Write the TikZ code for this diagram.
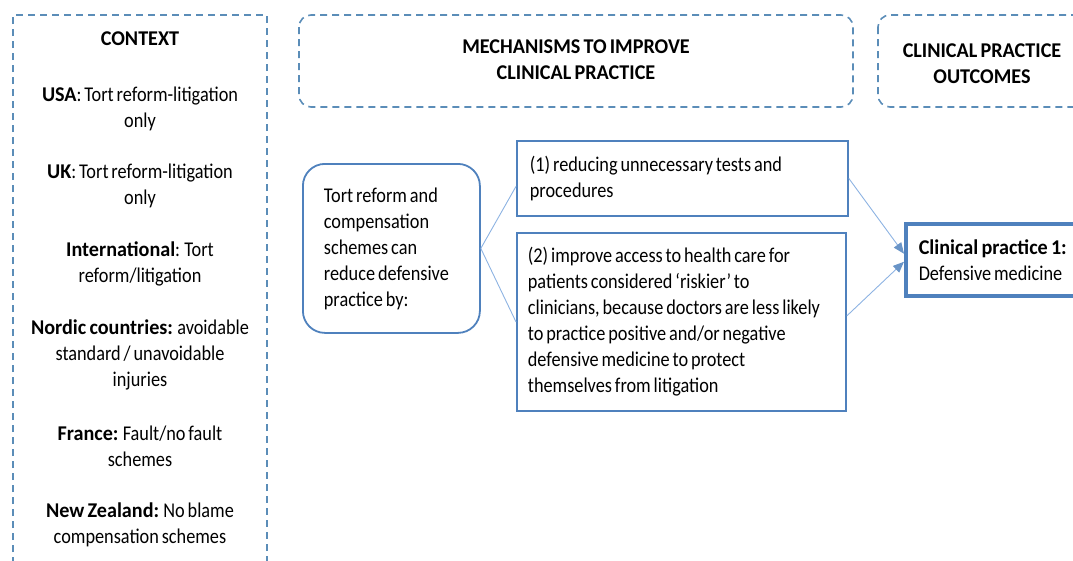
\documentclass[tikz,border=0pt]{standalone}
\usepackage{fontspec}
\setmainfont{Carlito}[FakeStretch=0.87,WordSpace=0.7,BoldFeatures={FakeStretch=0.96}]
\usetikzlibrary{positioning,arrows.meta}
\definecolor{dashblue}{HTML}{5B8DB8}
\definecolor{boxblue}{HTML}{4F81BD}
\definecolor{linkblue}{HTML}{8DB3E2}
\newcommand{\diagfont}{\fontsize{21}{26}\selectfont}
\tikzset{
  dashbox/.style={draw=dashblue,line width=1.6pt,dash pattern=on 7pt off 5pt},
  solidbox/.style={draw=boxblue,line width=1.8pt,align=flush left,anchor=north west,inner ysep=0pt},
  head/.style={font=\diagfont\bfseries,align=center},
  entry/.style={align=center},
  link/.style={draw=linkblue,line width=0.9pt},
  arrowlink/.style={link,-{Triangle[length=11pt,width=9pt,color=boxblue!85]}},
}
\begin{document}
\begin{tikzpicture}[x=1pt,y=-1pt,font=\diagfont]
\clip (0,0) rectangle (1073,560);
% dashed heading boxes
\draw[dashbox] (13,600)--(13,15)--(267,15)--(267,600);
\draw[dashbox,rounded corners=12pt] (299,15) rectangle (853,107);
\draw[dashbox,rounded corners=12pt] (878,15) rectangle (1110,107);
\node[head] (mechhead) at (576,59.5) {MECHANISMS TO IMPROVE\\CLINICAL PRACTICE};
\node[head] (outhead) at (982,63.5) {CLINICAL PRACTICE\\OUTCOMES};
% context column
\node[head] (ctx) at (140,39) {CONTEXT};
\node[entry] (usa) at (140,108.5) {\textbf{USA}: Tort reform-litigation\\only};
\node[entry] (uk) at (140,186) {\textbf{UK}: Tort reform-litigation\\only};
\node[entry] (intl) at (140,264) {\textbf{International}: Tort\\reform/litigation};
\node[entry] (nordic) at (140,355) {\textbf{Nordic countries:} avoidable\\standard / unavoidable\\injuries};
\node[entry] (france) at (140,446) {\textbf{France:} Fault/no fault\\schemes};
\node[entry] (nz) at (140,524.5) {\textbf{New Zealand:} No blame\\compensation schemes};
% mechanism boxes
\node[solidbox,rounded corners=22pt,minimum width=177pt,minimum height=169pt,inner xsep=21pt,text width=135pt] (tort) at (302,163) {Tort reform and\\compensation\\schemes can\\reduce defensive\\practice by:};
\node[solidbox,minimum width=331pt,minimum height=75pt,inner xsep=13pt,text width=305pt] (reduce) at (516,140) {(1) reducing unnecessary tests and\\procedures};
\node[solidbox,minimum width=329pt,minimum height=178pt,inner xsep=11pt,text width=307pt] (access) at (516,232) {(2) improve access to health care for\\patients considered ‘riskier’ to\\clinicians, because doctors are less likely\\to practice positive and/or negative\\defensive medicine to protect\\themselves from litigation};
\node[solidbox,line width=3.5pt,minimum width=190pt,minimum height=72pt,inner xsep=13pt,text width=164pt] (cp) at (904,222) {\textbf{Clinical practice 1:}\\Defensive medicine};
% connectors
\draw[link] (tort.east) -- ([yshift=-8pt]reduce.west);
\draw[link] (tort.east) -- (access.west);
\draw[arrowlink] (reduce.east) -- ([yshift=6pt]cp.west);
\draw[arrowlink] ([yshift=6pt]access.east) -- ([yshift=-2pt]cp.west);
\end{tikzpicture}
\end{document}
